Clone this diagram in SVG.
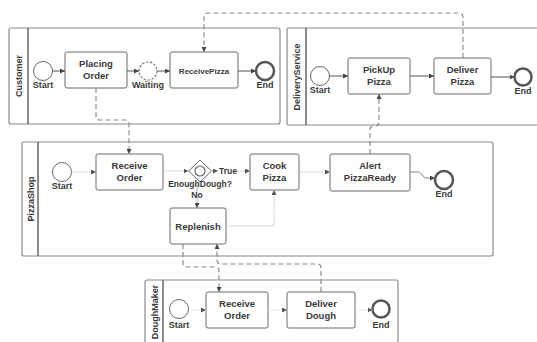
<svg xmlns="http://www.w3.org/2000/svg" width="537" height="342" viewBox="0 0 537 342">
<defs>
<marker id="ah" viewBox="0 0 6 6" refX="6" refY="3" markerWidth="5" markerHeight="5" markerUnits="userSpaceOnUse" orient="auto"><path d="M0,0 L6,3 L0,6 Z" fill="#444"/></marker>
<marker id="ahl" viewBox="0 0 6 6" refX="6" refY="3" markerWidth="5" markerHeight="5" markerUnits="userSpaceOnUse" orient="auto"><path d="M0,0 L6,3 L0,6 Z" fill="#555"/></marker>
</defs>
<style>
.pool{fill:#fff;stroke:#8a8a8a;stroke-width:1.2}
.hdr{stroke:#666;stroke-width:1.5}
.task{fill:#fff;stroke:#6a6a6a;stroke-width:1}
.start{fill:#fff;stroke:#666;stroke-width:1}
.end{fill:#fff;stroke:#555;stroke-width:2.5}
.t{font-family:"Liberation Sans",Arial,sans-serif;font-weight:bold;fill:#3a3a3a;text-anchor:middle}
.tb{font-size:9.5px}
.ts{font-size:9px}
.pl{font-size:9px}
.seq{fill:none;stroke:#555;stroke-width:1;marker-end:url(#ah)}
.lt{fill:none;stroke:#bdbdbd;stroke-width:1;stroke-dasharray:1.5,1;marker-end:url(#ahl)}
.fa{fill:none;stroke:#e2e2e2;stroke-width:0.8;marker-end:url(#ahl)}
.msg{fill:none;stroke:#8c8c8c;stroke-width:1.2;stroke-dasharray:5,3;marker-end:url(#ah)}
</style>

<g id="pool-customer">
<rect class="pool" x="9" y="28" width="271" height="96" rx="2"/>
<line class="hdr" x1="28" y1="28" x2="28" y2="124"/>
<text class="t pl" transform="translate(22,76) rotate(-90)">Customer</text>
</g>
<g id="pool-delivery">
<rect class="pool" x="287" y="28" width="260" height="97" rx="2"/>
<line class="hdr" x1="306" y1="28" x2="306" y2="125"/>
<text class="t pl" transform="translate(300,77) rotate(-90)">DeliveryService</text>
</g>
<g id="pool-pizzashop">
<rect class="pool" x="22" y="142" width="471" height="114" rx="2"/>
<line class="hdr" x1="38" y1="142" x2="38" y2="256"/>
<text class="t pl" transform="translate(33.5,199) rotate(-90)">PizzaShop</text>
</g>
<g id="pool-doughmaker">
<rect class="pool" x="145" y="280" width="253" height="80" rx="2"/>
<line class="hdr" x1="163" y1="280" x2="163" y2="342"/>
<text class="t pl" transform="translate(157.5,312) rotate(-90)">DoughMaker</text>
</g>

<g id="c-start"><circle class="start" cx="43" cy="71" r="9.5"/><text class="t ts" x="43" y="88">Start</text></g>
<g id="c-placing"><rect class="task" x="65" y="52" width="62" height="36" rx="2"/><text class="t tb" x="96" y="67">Placing</text><text class="t tb" x="96" y="79">Order</text></g>
<g id="c-waiting"><circle cx="148" cy="71" r="9" fill="#fff" stroke="#777" stroke-width="1.2" stroke-dasharray="2.5,1.5"/><text class="t ts" x="148" y="88">Waiting</text></g>
<g id="c-receive"><rect class="task" x="170" y="52" width="68" height="36" rx="2"/><text class="t" style="font-size:8px" x="204" y="74">ReceivePizza</text></g>
<g id="c-end"><circle class="end" cx="265" cy="71" r="9"/><text class="t ts" x="265" y="88">End</text></g>

<g id="d-start"><circle class="start" cx="320" cy="76" r="9.5"/><text class="t ts" x="320" y="93">Start</text></g>
<g id="d-pickup"><rect class="task" x="348" y="58" width="62" height="36" rx="2"/><text class="t tb" x="379" y="73">PickUp</text><text class="t tb" x="379" y="85">Pizza</text></g>
<g id="d-deliver"><rect class="task" x="434" y="58" width="57" height="36" rx="2"/><text class="t tb" x="462.5" y="73">Deliver</text><text class="t tb" x="462.5" y="85">Pizza</text></g>
<g id="d-end"><circle class="end" cx="523" cy="77" r="8.5"/><text class="t ts" x="523" y="94">End</text></g>

<g id="p-start"><circle class="start" cx="62" cy="172" r="9.5"/><text class="t ts" x="62" y="189">Start</text></g>
<g id="p-receive"><rect class="task" x="96" y="154" width="67" height="36" rx="2"/><text class="t tb" x="129.5" y="169">Receive</text><text class="t tb" x="129.5" y="181">Order</text></g>
<g id="p-gateway"><path d="M200,160 L211.5,171 L200,182 L188.5,171 Z" fill="#fff" stroke="#666" stroke-width="1"/><circle cx="200" cy="171" r="5" fill="none" stroke="#666" stroke-width="1.2"/><text class="t" style="font-size:8.5px" x="200" y="187">EnoughDough?</text></g>
<g id="p-cook"><rect class="task" x="250" y="154" width="49" height="36" rx="2"/><text class="t tb" x="274.5" y="169">Cook</text><text class="t tb" x="274.5" y="181">Pizza</text></g>
<g id="p-alert"><rect class="task" x="330" y="154" width="80" height="37" rx="2"/><text class="t tb" x="370" y="169">Alert</text><text class="t tb" x="370" y="181">PizzaReady</text></g>
<g id="p-end"><circle class="end" cx="444" cy="180" r="9"/><text class="t ts" x="444" y="197">End</text></g>
<g id="p-replenish"><rect class="task" x="170" y="208" width="56" height="36" rx="2"/><text class="t tb" x="198" y="230">Replenish</text></g>

<g id="m-start"><circle class="start" cx="179" cy="309" r="9.5"/><text class="t ts" x="179" y="328">Start</text></g>
<g id="m-receive"><rect class="task" x="206" y="292" width="62" height="36" rx="2"/><text class="t tb" x="237" y="307">Receive</text><text class="t tb" x="237" y="319">Order</text></g>
<g id="m-deliver"><rect class="task" x="287" y="292" width="68" height="36" rx="2"/><text class="t tb" x="321" y="307">Deliver</text><text class="t tb" x="321" y="319">Dough</text></g>
<g id="m-end"><circle class="end" cx="381" cy="309" r="8.5"/><text class="t ts" x="381" y="328">End</text></g>

<g id="connectors">
<path class="seq" d="M52.5,71 L65,71"/>
<path class="seq" d="M127,71 L139,71"/>
<path class="seq" d="M157,71 L170,71"/>
<path class="seq" d="M238,71 L256,71"/>
<path class="seq" d="M329.5,76 L348,76"/>
<path class="seq" d="M410,76 L434,76"/>
<path class="seq" d="M491,77 L514.5,77"/>
<path class="lt" d="M71.5,172 L96,172"/>
<path class="lt" d="M163,171 L188.5,171"/>
<path class="lt" d="M211.5,171 L218,171"/>
<path class="lt" d="M237,171 L250,171"/>
<text class="t" style="font-size:8.5px" x="228" y="174">True</text>
<path class="seq" style="stroke:#999;stroke-width:0.8" d="M197,182 L197,208"/>
<text class="t" style="font-size:8.5px" x="197" y="198" fill="#3a3a3a">No</text>
<path class="lt" d="M226,226 L272,226 Q274,226 274,224 L274,190"/>
<path class="lt" d="M299,172 L330,172"/>
<path class="seq" style="stroke:#777;stroke-width:0.9" d="M410,172 L418,172 C422,172 422,178 427,178 L435,178"/>
<path class="fa" d="M189,310 L206,310"/>
<path class="fa" d="M268,310 L287,310"/>
<path class="fa" d="M355,310 L372.5,310"/>
<path class="msg" d="M463,58 L463,17 Q463,13 459,13 L208,13 Q204,13 204,17 L204,52"/>
<path class="msg" d="M96,88 L96,116 Q96,120 100,120 L125,120 Q129,120 129,124 L129,154"/>
<path class="msg" d="M370,154 L370,130 Q370,126 374,126 L375,126 Q379,126 379,122 L379,94"/>
<path class="msg" d="M183,244 L183,263 Q183,267 187,267 L215,267 Q219,267 219,271 L219,292"/>
<path class="msg" d="M321,292 L321,268 Q321,264 317,264 L221,264 Q217,264 217,260 L217,244"/>
</g>
</svg>
